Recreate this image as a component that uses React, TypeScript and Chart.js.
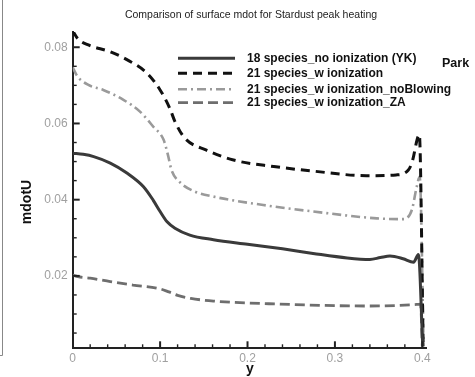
import React, { useEffect, useRef } from "react";
import { Chart, registerables } from "chart.js";
Chart.register(...registerables);

const titleText = "Comparison of surface mdot for Stardust peak heating";
const seriesLabels = [
  "18 species_no ionization (YK)",
  "21 species_w ionization",
  "21 species_w ionization_noBlowing",
  "21 species_w ionization_ZA",
];
const sideNote = "Park";
const xTitle = "y";
const yTitle = "mdotU";

// 18 species_no ionization (YK)
const noIonX = [0, 0.012, 0.024, 0.043, 0.062, 0.081, 0.092, 0.1, 0.108, 0.117, 0.134, 0.161, 0.2, 0.24, 0.275, 0.314, 0.34, 0.352, 0.363, 0.378, 0.39, 0.3955, 0.4005];
const noIonY = [0.0522, 0.0519, 0.0513, 0.0496, 0.047, 0.0434, 0.0399, 0.0369, 0.0342, 0.0325, 0.0307, 0.0295, 0.0283, 0.0271, 0.0259, 0.0247, 0.0243, 0.0248, 0.0252, 0.0245, 0.0236, 0.0256, 0.0015];

// 21 species_w ionization
const wIonX = [0, 0.006, 0.018, 0.043, 0.064, 0.085, 0.1, 0.111, 0.117, 0.128, 0.153, 0.184, 0.23, 0.275, 0.336, 0.37, 0.384, 0.388, 0.3966, 0.401];
const wIonY = [0.0843, 0.0822, 0.0806, 0.0788, 0.0765, 0.0732, 0.0688, 0.064, 0.0605, 0.0562, 0.053, 0.0504, 0.0487, 0.0475, 0.0463, 0.0465, 0.0478, 0.0496, 0.057, 0.0015];

// 21 species_w ionization_noBlowing
const noBlowX = [0, 0.005, 0.018, 0.035, 0.058, 0.077, 0.092, 0.104, 0.109, 0.113, 0.123, 0.14, 0.161, 0.218, 0.275, 0.348, 0.378, 0.388, 0.3936, 0.397, 0.4015];
const noBlowY = [0.0747, 0.0725, 0.0701, 0.0688, 0.0662, 0.0631, 0.0592, 0.0557, 0.0517, 0.0478, 0.0445, 0.0421, 0.0408, 0.0386, 0.0369, 0.0351, 0.0349, 0.0373, 0.0434, 0.046, 0.0015];

// 21 species_w ionization_ZA
const zaX = [0, 0.006, 0.02, 0.043, 0.069, 0.1, 0.11, 0.12, 0.135, 0.161, 0.237, 0.336, 0.3936, 0.398, 0.4];
const zaY = [0.0202, 0.0198, 0.0194, 0.0185, 0.0176, 0.0166, 0.0158, 0.0149, 0.0141, 0.0134, 0.0126, 0.0121, 0.0125, 0.0126, 0.0015];

const xTickValues = [0.02, 0.04, 0.06, 0.08, 0.1, 0.12, 0.14, 0.16, 0.18, 0.2, 0.22, 0.24, 0.26, 0.28, 0.3, 0.32, 0.34, 0.36, 0.38, 0.4];
const xLabelValues = [0, 0.1, 0.2, 0.3, 0.4];
const yTickValues = [0.005, 0.01, 0.015, 0.02, 0.025, 0.03, 0.035, 0.04, 0.045, 0.05, 0.055, 0.06, 0.065, 0.07, 0.075, 0.08];
const yLabelValues = [0.02, 0.04, 0.06, 0.08];

const colors = ["#3a3a3a", "#111111", "#9a9a9a", "#6e6e6e"];
const dashes = [[], [9, 6], [9, 4, 2, 4], [10, 5]];
const widths = [3, 3, 2.6, 2.8];

const toPts = (xs: number[], ys: number[]) => xs.map((x, i) => ({ x, y: ys[i] }));

const near = (a: number, list: number[]) => list.some((b) => Math.abs(a - b) < 1e-9);

export default function App() {
  const ref = useRef<HTMLCanvasElement>(null);
  useEffect(() => {
    const series = [toPts(noIonX, noIonY), toPts(wIonX, wIonY), toPts(noBlowX, noBlowY), toPts(zaX, zaY)];
    const decor = {
      id: "decor",
      afterDraw(chart: any) {
        const ctx = chart.ctx as CanvasRenderingContext2D;
        const xs = chart.scales.x;
        const ys = chart.scales.y;
        const area = chart.chartArea;
        ctx.save();
        // inward ticks
        ctx.strokeStyle = "#222";
        yTickValues.forEach((v) => {
          const py = ys.getPixelForValue(v);
          const major = near(v, yLabelValues);
          ctx.lineWidth = major ? 2 : 1.4;
          ctx.beginPath();
          ctx.moveTo(area.left, py);
          ctx.lineTo(area.left + (major ? 7 : 4), py);
          ctx.stroke();
        });
        xTickValues.forEach((v) => {
          const px = xs.getPixelForValue(v);
          const major = near(v, xLabelValues);
          ctx.lineWidth = major ? 2 : 1.4;
          ctx.beginPath();
          ctx.moveTo(px, area.bottom);
          ctx.lineTo(px, area.bottom - (major ? 7 : 4));
          ctx.stroke();
        });
        // title
        ctx.fillStyle = "#222";
        ctx.font = '10.5px "Liberation Sans", Arial, sans-serif';
        ctx.textAlign = "center";
        ctx.textBaseline = "middle";
        ctx.fillText(titleText, 251, 15);
        // legend
        const rows = [58.3, 73.3, 89.3, 102.7];
        seriesLabels.forEach((lab, i) => {
          ctx.strokeStyle = colors[i];
          ctx.lineWidth = widths[i];
          ctx.setLineDash(dashes[i]);
          ctx.beginPath();
          ctx.moveTo(178, rows[i]);
          ctx.lineTo(235, rows[i]);
          ctx.stroke();
          ctx.setLineDash([]);
          ctx.fillStyle = "#111";
          ctx.font = 'bold 12px "Liberation Sans", Arial, sans-serif';
          ctx.textAlign = "left";
          ctx.textBaseline = "middle";
          ctx.fillText(lab, 247, rows[i]);
        });
        ctx.font = 'bold 12.5px "Liberation Sans", Arial, sans-serif';
        ctx.fillText(sideNote, 442, 64);
        // axis titles
        ctx.font = 'bold 14px "Liberation Sans", Arial, sans-serif';
        ctx.textAlign = "center";
        ctx.fillText(xTitle, 250, 369);
        ctx.save();
        ctx.translate(27, 202);
        ctx.rotate(-Math.PI / 2);
        ctx.fillText(yTitle, 0, 0);
        ctx.restore();
        // frame line at left edge
        ctx.strokeStyle = "#888";
        ctx.lineWidth = 1;
        ctx.beginPath();
        ctx.moveTo(2.5, 0);
        ctx.lineTo(2.5, 355.5);
        ctx.lineTo(0, 355.5);
        ctx.stroke();
        ctx.restore();
      },
    };
    const chart = new Chart(ref.current as HTMLCanvasElement, {
      type: "line",
      data: {
        datasets: series.map((d, i) => ({
          label: seriesLabels[i],
          data: d,
          borderColor: colors[i],
          borderWidth: widths[i],
          borderDash: dashes[i],
          pointRadius: 0,
          fill: false,
          cubicInterpolationMode: "monotone" as const,
        })),
      },
      options: {
        animation: false,
        responsive: false,
        layout: { padding: { left: 0, top: 32, right: 48.3, bottom: 0 } },
        plugins: { legend: { display: false }, tooltip: { enabled: false }, title: { display: false } },
        scales: {
          x: {
            type: "linear",
            min: 0,
            max: 0.405,
            afterFit: (s: any) => {
              s.height = 28.7;
            },
            afterBuildTicks: (s: any) => {
              s.ticks = xLabelValues.map((v) => ({ value: v }));
            },
            grid: { display: false, drawTicks: false },
            border: { color: "#222", width: 2 },
            ticks: {
              autoSkip: false,
              maxRotation: 0,
              padding: 3,
              color: "#a0a0a0",
              font: { family: '"Liberation Sans", Arial, sans-serif', size: 12 },
              callback: (v: any) => String(Number(v)),
            },
          },
          y: {
            type: "linear",
            min: 0.001,
            max: 0.084,
            afterFit: (s: any) => {
              s.width = 72.7;
            },
            afterBuildTicks: (s: any) => {
              s.ticks = yLabelValues.map((v) => ({ value: v }));
            },
            grid: { display: false, drawTicks: false },
            border: { color: "#222", width: 2 },
            ticks: {
              autoSkip: false,
              padding: 5,
              color: "#a0a0a0",
              font: { family: '"Liberation Sans", Arial, sans-serif', size: 12 },
              callback: (v: any) => Number(v).toFixed(2),
            },
          },
        },
      },
      plugins: [decor],
    } as any);
    return () => chart.destroy();
  }, []);
  return (
    <div style={{ position: "absolute", left: 0, top: 0, width: 475, height: 377, background: "#fff" }}>
      <canvas ref={ref} width={475} height={377} style={{ display: "block", width: 475, height: 377 }} />
    </div>
  );
}
